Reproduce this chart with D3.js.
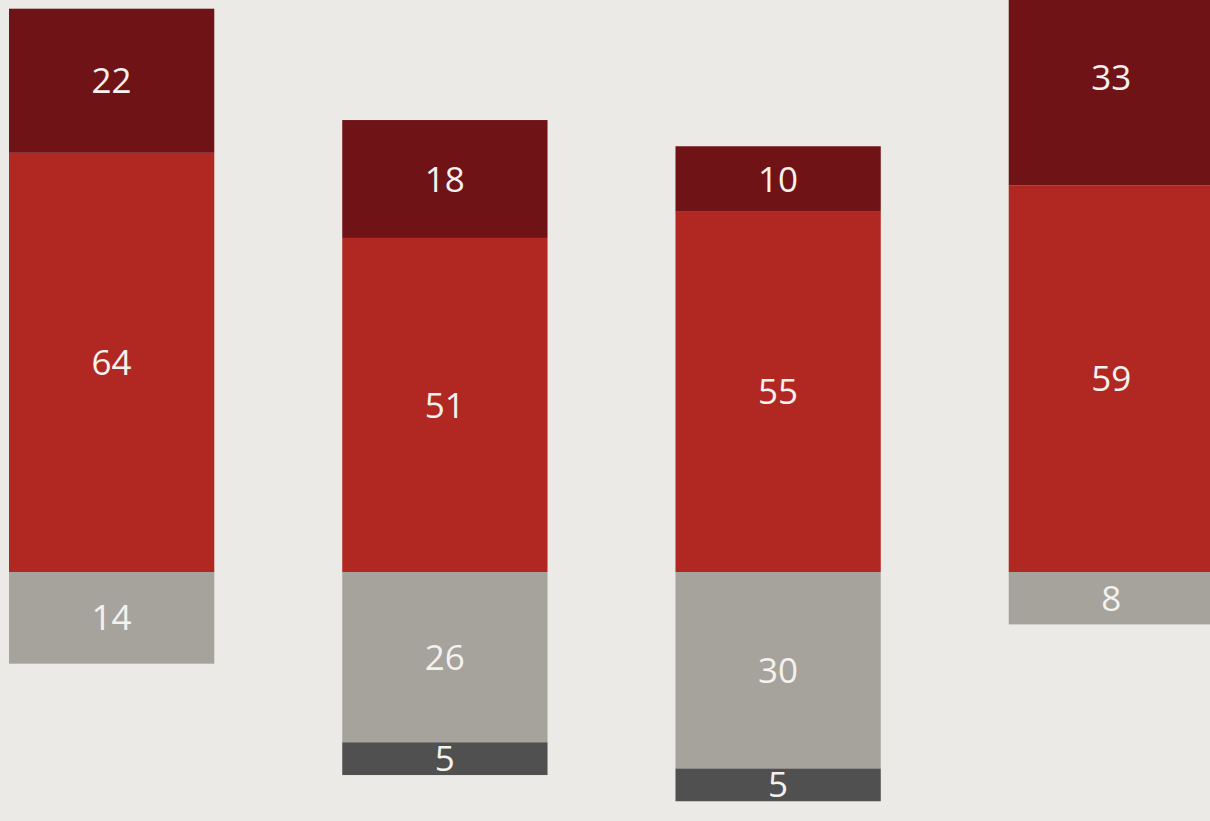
<!DOCTYPE html>
<html>
<head>
<meta charset="utf-8">
<script src="https://cdn.jsdelivr.net/npm/d3@7"></script>
<style>
  html, body { margin: 0; padding: 0; background: #ECEAE6; overflow: hidden; }
</style>
</head>
<body>
<div id="chart"></div>
<script>
// four groups, two segments above the baseline and two below
var groups = ["A", "B", "C", "D"];
var strongPos = [22, 18, 10, 33];   // dark red, top
var pos = [64, 51, 55, 59];         // red
var neg = [14, 26, 30, 8];          // grey
var strongNeg = [0, 5, 5, 0];       // dark grey, bottom

var width = 1210, height = 821;
var colors = { strongPos: "#6F1317", pos: "#B12823", neg: "#A6A39C", strongNeg: "#505050" };

var svg = d3.select("#chart").append("svg")
    .attr("width", width)
    .attr("height", height);

var x = d3.scaleBand()
    .domain(groups)
    .range([9, 1214])
    .paddingInner(0.384)
    .paddingOuter(0);

// baseline sits at 572px
var y = d3.scaleLinear()
    .domain([-40, 90])
    .range([572 + 40 * 6.55, 572 - 90 * 6.55]);

// build segments [y0, y1] per group
var segs = [];
groups.forEach(function(g, i) {
  segs.push({ g: g, key: "pos", v: pos[i], y0: 0, y1: pos[i] });
  segs.push({ g: g, key: "strongPos", v: strongPos[i], y0: pos[i], y1: pos[i] + strongPos[i] });
  segs.push({ g: g, key: "neg", v: neg[i], y0: -neg[i], y1: 0 });
  segs.push({ g: g, key: "strongNeg", v: strongNeg[i], y0: -neg[i] - strongNeg[i], y1: -neg[i] });
});
segs = segs.filter(function(d) { return d.v > 0; });

svg.selectAll("rect.seg")
  .data(segs)
  .enter().append("rect")
    .attr("class", "seg")
    .attr("x", function(d) { return x(d.g); })
    .attr("width", x.bandwidth())
    .attr("y", function(d) { return y(d.y1); })
    .attr("height", function(d) { return y(d.y0) - y(d.y1); })
    .attr("fill", function(d) { return colors[d.key]; });

svg.selectAll("text.lbl")
  .data(segs)
  .enter().append("text")
    .attr("class", "lbl")
    .attr("x", function(d) { return x(d.g) + x.bandwidth() / 2; })
    .attr("y", function(d) { return (y(d.y0) + y(d.y1)) / 2; })
    .attr("dy", "0.36em")
    .attr("text-anchor", "middle")
    .style("font-family", "'Open Sans', sans-serif")
    .style("font-size", "35px")
    .style("fill", "#F4F1EE")
    .text(function(d) { return d.v; });
</script>
</body>
</html>
